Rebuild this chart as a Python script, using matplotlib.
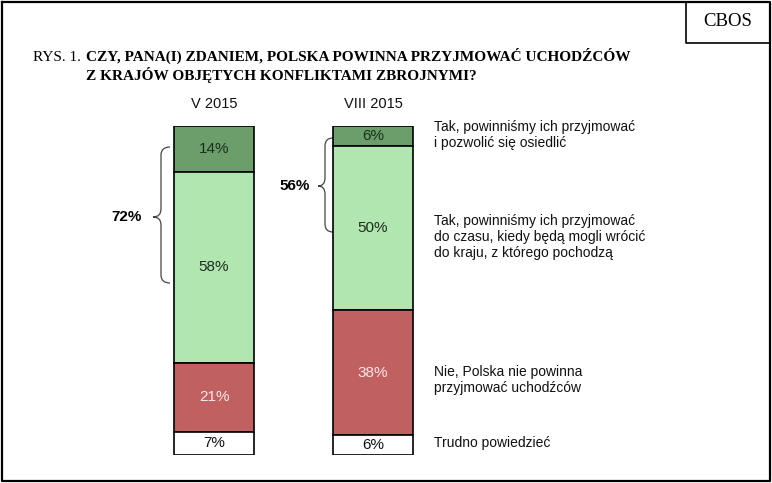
import numpy as np
import matplotlib.pyplot as plt
from matplotlib.path import Path
from matplotlib.patches import PathPatch

# dane z rysunku (w procentach, od góry słupka)
waves = ['V 2015', 'VIII 2015']
yes_stay = [14, 6]
yes_temp = [58, 50]
no_vals = [21, 38]
hard_say = [7, 6]

answers = ['Tak, powinniśmy ich przyjmować\ni pozwolić się osiedlić',
           'Tak, powinniśmy ich przyjmować\ndo czasu, kiedy będą mogli wrócić\ndo kraju, z którego pochodzą',
           'Nie, Polska nie powinna\nprzyjmować uchodźców',
           'Trudno powiedzieć']

colors = ['#6b9e6b', '#b1e6b1', '#c06060', '#ffffff']
txt_colors = ['#1c2e1c', '#1c2e1c', '#fbe8e8', '#111111']

W, H = 772, 483
fig = plt.figure(figsize=(W / 100, H / 100), dpi=100)

# warstwa z tekstami w pikselach
ax0 = fig.add_axes([0, 0, 1, 1])
ax0.set_xlim(0, W)
ax0.set_ylim(H, 0)
ax0.axis('off')

# ramki
ax0.plot([1.5, 770, 770, 1.5, 1.5], [1.5, 1.5, 481, 481, 1.5], color='black', lw=1.6)
ax0.plot([686, 686, 770], [1.5, 43, 43], color='black', lw=1.2)
ax0.text(728, 22, 'CBOS', ha='center', va='center', fontsize=13.5,
         family='Liberation Serif')

# tytuł
ax0.text(33, 61, 'RYS. 1.', ha='left', va='baseline', fontsize=11,
         family='Liberation Serif')
ax0.text(86, 61, 'CZY, PANA(I) ZDANIEM, POLSKA POWINNA PRZYJMOWAĆ UCHODŹCÓW',
         ha='left', va='baseline', fontsize=11, family='Liberation Serif', weight='bold')
ax0.text(86, 80, 'Z KRAJÓW OBJĘTYCH KONFLIKTAMI ZBROJNYMI?',
         ha='left', va='baseline', fontsize=11, family='Liberation Serif', weight='bold')

# opisy odpowiedzi
for label, yc in zip(answers, [135, 237, 380, 443]):
    ax0.text(434, yc, label, ha='left', va='center', fontsize=10,
             family='Liberation Sans', linespacing=1.15, color='#111111')


def brace(ax, xr, xm, xt, yt, yb, ym, r=8):
    verts = [(xr, yt), (xm, yt), (xm, yt + r),
             (xm, ym - r), (xm, ym), (xt, ym),
             (xm, ym), (xm, ym + r),
             (xm, yb - r), (xm, yb), (xr, yb)]
    codes = [Path.MOVETO, Path.CURVE3, Path.CURVE3,
             Path.LINETO, Path.CURVE3, Path.CURVE3,
             Path.CURVE3, Path.CURVE3,
             Path.LINETO, Path.CURVE3, Path.CURVE3]
    ax.add_patch(PathPatch(Path(verts, codes), fill=False, color='#444444', lw=0.9))


brace(ax0, 170, 161, 153, 147, 283, 217)
brace(ax0, 333, 325, 318, 138, 232, 186)
ax0.text(142, 217, f'{yes_stay[0] + yes_temp[0]}%', ha='right', va='center',
         fontsize=11, weight='bold', family='Liberation Sans')
ax0.text(310, 186, f'{yes_stay[1] + yes_temp[1]}%', ha='right', va='center',
         fontsize=11, weight='bold', family='Liberation Sans')

# słupki
ax = fig.add_axes([134.5 / W, (H - 455) / H, 318 / W, 329 / H])
ax.set_xlim(-0.5, 1.5)
ax.set_ylim(100, 0)
ax.axis('off')

x = np.arange(len(waves))
series = [yes_stay, yes_temp, no_vals, hard_say]
bottom = np.zeros(len(waves))
for vals, col, tc in zip(series, colors, txt_colors):
    vals = np.array(vals)
    ax.bar(x, vals, bottom=bottom, width=0.503, color=col, edgecolor='black',
           linewidth=1.2)
    for xi, v, b in zip(x, vals, bottom):
        ax.text(xi, b + v / 2, f'{v}%', ha='center', va='center', fontsize=11,
                color=tc, family='Liberation Sans')
    bottom += vals

for xi, w in zip(x, waves):
    ax.text(xi, -4.5, w, ha='center', va='bottom', fontsize=10.5,
            family='Liberation Sans', color='#111111')

plt.savefig('out.png', dpi=100)
